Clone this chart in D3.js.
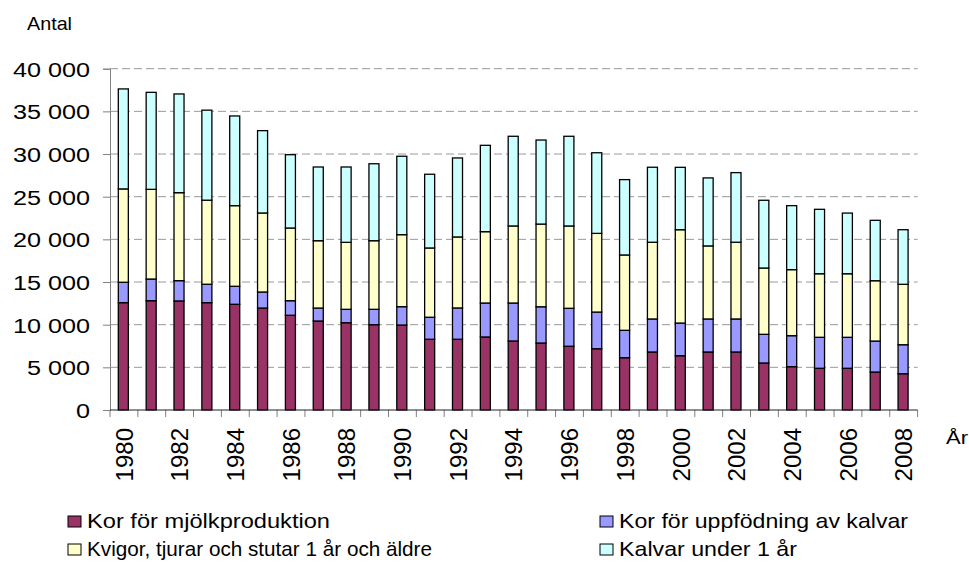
<!DOCTYPE html>
<html>
<head>
<meta charset="utf-8">
<script src="https://cdn.jsdelivr.net/npm/d3@7/dist/d3.min.js"></script>
<style>
	body { margin: 0; background: #fff; }
	svg { display: block; font-family: "Liberation Sans", Arial, sans-serif; }
</style>
</head>
<body>
<div class="chart"></div>
<script>
// år 1980-2008
const years = d3.range(1980, 2009)

const seriesNames = [
	'Kor för mjölkproduktion',
	'Kor för uppfödning av kalvar',
	'Kvigor, tjurar och stutar 1 år och äldre',
	'Kalvar under 1 år'
]
const seriesColors = ['#993366', '#9999ff', '#ffffcc', '#ccffff']

const mjolkkor = [12580, 12810, 12780, 12580, 12390, 11950, 11100, 10430, 10230, 10000,
	9960, 8290, 8290, 8560, 8090, 7850, 7470, 7180, 6130, 6800,
	6360, 6800, 6800, 5510, 5080, 4890, 4890, 4450, 4250]
const amkor = [2390, 2540, 2380, 2160, 2110, 1880, 1710, 1520, 1570, 1800,
	2150, 2580, 3670, 3980, 4450, 4250, 4450, 4300, 3210, 3870,
	3830, 3870, 3870, 3360, 3630, 3630, 3630, 3630, 3400]
const kvigor = [10940, 10510, 10310, 9850, 9450, 9260, 8520, 7890, 7850, 8040,
	8440, 8120, 8320, 8360, 9030, 9690, 9650, 9220, 8830, 8990,
	10940, 8560, 8990, 7770, 7740, 7450, 7450, 7070, 7080]
const kalvar = [11720, 11370, 11570, 10550, 10510, 9650, 8590, 8640, 8830, 9020,
	9190, 8640, 9260, 10120, 10510, 9850, 10510, 9450, 8830, 8790,
	7310, 7970, 8160, 7940, 7500, 7550, 7110, 7080, 6400]

const yTicks = [0, 5000, 10000, 15000, 20000, 25000, 30000, 35000, 40000]
const xLabels = years.filter(y => y % 2 === 0)

const W = 969, H = 567
const plotLeft = 110, plotRight = 917.6, plotTop = 68.7, plotBottom = 410

const rows = years.map((year, i) => ({
	year,
	s0: mjolkkor[i],
	s1: amkor[i],
	s2: kvigor[i],
	s3: kalvar[i]
}))
const stacked = d3.stack().keys(['s0', 's1', 's2', 's3'])(rows)

const x = d3.scaleBand()
	.domain(years)
	.range([plotLeft, plotRight])
	.paddingInner(0.64)
	.paddingOuter(0.32)
const y = d3.scaleLinear()
	.domain([0, 40000])
	.range([plotBottom, plotTop])

const fmt = v => d3.format(',')(v).replace(/,/g, ' ')

const svg = d3.select('.chart')
	.append('svg')
	.attr('width', W)
	.attr('height', H)

// stödlinjer
svg.append('g')
	.selectAll('line')
	.data(yTicks.filter(d => d > 0))
	.join('line')
	.attr('x1', plotLeft)
	.attr('x2', plotRight)
	.attr('y1', d => y(d))
	.attr('y2', d => y(d))
	.attr('stroke', '#999')
	.attr('stroke-width', 1)
	.attr('stroke-dasharray', '8,4')

// staplar
svg.append('g')
	.selectAll('g')
	.data(stacked)
	.join('g')
	.attr('fill', (d, i) => seriesColors[i])
	.selectAll('rect')
	.data(d => d)
	.join('rect')
	.attr('x', d => x(d.data.year) - 0.6)
	.attr('width', x.bandwidth())
	.attr('y', d => y(d[1]))
	.attr('height', d => y(d[0]) - y(d[1]))
	.attr('stroke', '#000')
	.attr('stroke-width', 1.3)

// y-axel
const yAxis = svg.append('g')
	.attr('transform', `translate(${plotLeft},0)`)
	.call(d3.axisLeft(y).tickValues(yTicks).tickSize(7).tickFormat(fmt))
yAxis.select('.domain').attr('stroke', '#808080')
yAxis.selectAll('.tick line').attr('stroke', '#808080')
yAxis.selectAll('.tick text')
	.attr('font-size', 21)
	.attr('fill', '#000')
	.attr('x', -20 / 1.2)
	.attr('dy', '0.36em')
	.attr('transform', 'scale(1.2,1)')

// x-axel
const xAxis = svg.append('g')
	.attr('transform', `translate(0,${plotBottom})`)
xAxis.selectAll('line.tick')
	.data(d3.range(years.length + 1))
	.join('line')
	.attr('class', 'tick')
	.attr('x1', i => plotLeft + i * x.step())
	.attr('x2', i => plotLeft + i * x.step())
	.attr('y1', 0)
	.attr('y2', 7)
	.attr('stroke', '#808080')
xAxis.append('line')
	.attr('x1', plotLeft)
	.attr('x2', plotRight)
	.attr('stroke', '#222')
	.attr('stroke-width', 1.2)
xAxis.selectAll('text')
	.data(xLabels)
	.join('text')
	.attr('transform', d => `translate(${x(d) + x.bandwidth() / 2},18) rotate(-90)`)
	.attr('text-anchor', 'end')
	.attr('dy', '0.36em')
	.attr('font-size', 24)
	.text(d => d)

// axeltitlar
svg.append('text')
	.attr('x', 27)
	.attr('y', 29.5)
	.attr('font-size', 19)
	.attr('textLength', 45)
	.attr('lengthAdjust', 'spacingAndGlyphs')
	.text('Antal')
svg.append('text')
	.attr('x', 946)
	.attr('y', 444)
	.attr('font-size', 18)
	.attr('textLength', 22)
	.attr('lengthAdjust', 'spacingAndGlyphs')
	.text('År')

// förklaring
const legendPos = [
	{ x: 68, y: 528, len: 243 },
	{ x: 600, y: 528, len: 289 },
	{ x: 68, y: 556, len: 345 },
	{ x: 600, y: 556, len: 178 }
]
const legend = svg.append('g')
	.selectAll('g')
	.data(seriesNames)
	.join('g')
	.attr('transform', (d, i) => `translate(${legendPos[i].x},${legendPos[i].y})`)
legend.append('rect')
	.attr('x', 0)
	.attr('y', -12)
	.attr('width', 13)
	.attr('height', 11)
	.attr('fill', (d, i) => seriesColors[i])
	.attr('stroke', '#000')
	.attr('stroke-width', 1)
legend.append('text')
	.attr('x', 19)
	.attr('font-size', 21)
	.attr('textLength', (d, i) => legendPos[i].len)
	.attr('lengthAdjust', 'spacingAndGlyphs')
	.text(d => d)
</script>
</body>
</html>
